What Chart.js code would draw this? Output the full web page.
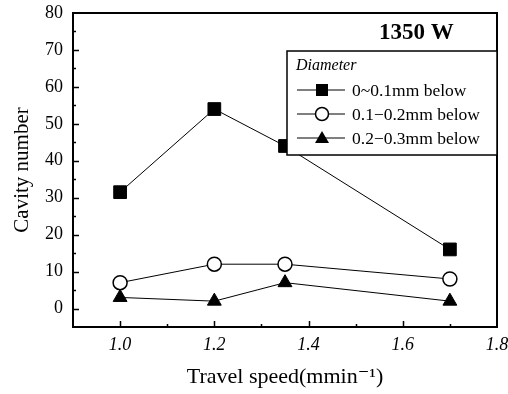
<!DOCTYPE html>
<html>
<head>
<meta charset="utf-8">
<script src="https://cdn.jsdelivr.net/npm/chart.js"></script>
<style>
  body { margin: 0; background: #fff; }
  #wrap { width: 508px; height: 394px; }
</style>
</head>
<body>
<div id="wrap"><canvas id="myChart" width="508" height="394"></canvas></div>
<script>
// data
const speeds = [1.0, 1.2, 1.35, 1.7];
const seriesNames = ["0~0.1mm below", "0.1\u22120.2mm below", "0.2\u22120.3mm below"];
const small = [31.5, 54, 44, 16];
const medium = [7, 12, 12, 8];
const large = [3, 2, 7, 2];
const xTicks = [1.0, 1.2, 1.4, 1.6, 1.8];
const yTicks = [0, 10, 20, 30, 40, 50, 60, 70, 80];

const ctx = document.getElementById("myChart").getContext("2d");
const serif = "'Liberation Serif', 'DejaVu Serif', serif";

function pts(vals) {
  return speeds.map((s, i) => ({ x: s, y: vals[i] }));
}

// frame, inward ticks, label and legend box
const decor = {
  id: "decor",
  afterDraw(chart) {
    const c = chart.ctx;
    const a = chart.chartArea;
    const xs = chart.scales.x;
    const ys = chart.scales.y;
    c.save();
    c.strokeStyle = "#000";
    c.lineWidth = 2;
    c.strokeRect(a.left, a.top, a.right - a.left, a.bottom - a.top);

    c.lineWidth = 1.5;
    for (let v = 1.0; v < 1.8; v += 0.1) {
      const px = Math.round(xs.getPixelForValue(v)) + 0.5;
      const major = Math.abs(Math.round(v * 10) % 2) === 0;
      c.beginPath();
      c.moveTo(px, a.bottom);
      c.lineTo(px, a.bottom - (major ? 6 : 3));
      c.stroke();
    }
    for (let v = 0; v < 80; v += 5) {
      const py = Math.round(ys.getPixelForValue(v)) + 0.5;
      c.beginPath();
      c.moveTo(a.left, py);
      c.lineTo(a.left + (v % 10 === 0 ? 6 : 3), py);
      c.stroke();
    }

    // power label
    c.fillStyle = "#000";
    c.font = "bold 23px " + serif;
    c.textBaseline = "middle";
    c.fillText("1350 W", 379, 33);

    // legend box
    const bx = 287, by = 51, bw = a.right - bx, bh = 104;
    c.fillStyle = "#fff";
    c.fillRect(bx, by, bw, bh);
    c.lineWidth = 1.5;
    c.strokeRect(bx, by, bw, bh);
    c.fillStyle = "#000";
    c.font = "italic 16px " + serif;
    c.fillText("Diameter", 296, 66);
    c.font = "17.5px " + serif;
    chart.data.datasets.forEach((ds, i) => {
      const y = 90 + i * 24;
      c.lineWidth = 1;
      c.beginPath();
      c.moveTo(297, y);
      c.lineTo(345, y);
      c.stroke();
      drawMarker(c, ds.pointStyle, 322, y);
      c.fillStyle = "#000";
      c.fillText(ds.label, 352, y + 1);
    });
    c.restore();
  }
};

function drawMarker(c, style, x, y) {
  c.lineWidth = 1.5;
  c.strokeStyle = "#000";
  if (style === "rect") {
    c.fillStyle = "#000";
    c.fillRect(x - 6, y - 6, 12, 12);
  } else if (style === "circle") {
    c.fillStyle = "#fff";
    c.beginPath();
    c.arc(x, y, 6.5, 0, Math.PI * 2);
    c.fill();
    c.stroke();
  } else {
    c.fillStyle = "#000";
    c.beginPath();
    c.moveTo(x, y - 7);
    c.lineTo(x + 7, y + 5);
    c.lineTo(x - 7, y + 5);
    c.closePath();
    c.fill();
  }
}

new Chart(ctx, {
  type: "line",
  data: {
    datasets: [
      {
        label: seriesNames[0],
        data: pts(small),
        borderColor: "#000",
        borderWidth: 1,
        pointStyle: "rect",
        pointRadius: 9,
        backgroundColor: "#000",
        pointBorderColor: "#000",
      },
      {
        label: seriesNames[1],
        data: pts(medium),
        borderColor: "#000",
        borderWidth: 1,
        pointStyle: "circle",
        pointRadius: 7,
        pointBorderWidth: 1.5,
        backgroundColor: "#fff",
        pointBorderColor: "#000",
      },
      {
        label: seriesNames[2],
        data: pts(large),
        borderColor: "#000",
        borderWidth: 1,
        pointStyle: "triangle",
        pointRadius: 8,
        backgroundColor: "#000",
        pointBorderColor: "#000",
      },
    ],
  },
  options: {
    responsive: false,
    animation: false,
    layout: { padding: { top: 13, right: 11, left: 0, bottom: 0 } },
    plugins: { legend: { display: false }, tooltip: { enabled: false } },
    scales: {
      x: {
        type: "linear",
        min: 0.9,
        max: 1.8,
        afterBuildTicks: (s) => { s.ticks = xTicks.map((v) => ({ value: v })); },
        afterFit: (s) => { s.height = 67; s.paddingLeft = 0; s.paddingRight = 0; },
        grid: { display: false, drawTicks: false },
        border: { display: false },
        ticks: {
          color: "#000",
          font: { family: serif, size: 18, style: "italic" },
          padding: 7,
          maxRotation: 0,
          callback: (v) => v.toFixed(1),
        },
        title: {
          display: true,
          text: "Travel speed(mmin\u207B\u00B9)",
          color: "#000",
          font: { family: serif, size: 22 },
          padding: { top: 8 },
        },
      },
      y: {
        min: -5,
        max: 80,
        afterBuildTicks: (s) => { s.ticks = yTicks.map((v) => ({ value: v })); },
        afterFit: (s) => { s.width = 73; s.paddingTop = 0; s.paddingBottom = 0; },
        grid: { display: false, drawTicks: false },
        border: { display: false },
        ticks: {
          color: "#000",
          font: { family: serif, size: 18 },
          padding: 10,
        },
        title: {
          display: true,
          text: "Cavity number",
          color: "#000",
          font: { family: serif, size: 21 },
          padding: { top: 10, bottom: 0 },
        },
      },
    },
  },
  plugins: [decor],
});
</script>
</body>
</html>
